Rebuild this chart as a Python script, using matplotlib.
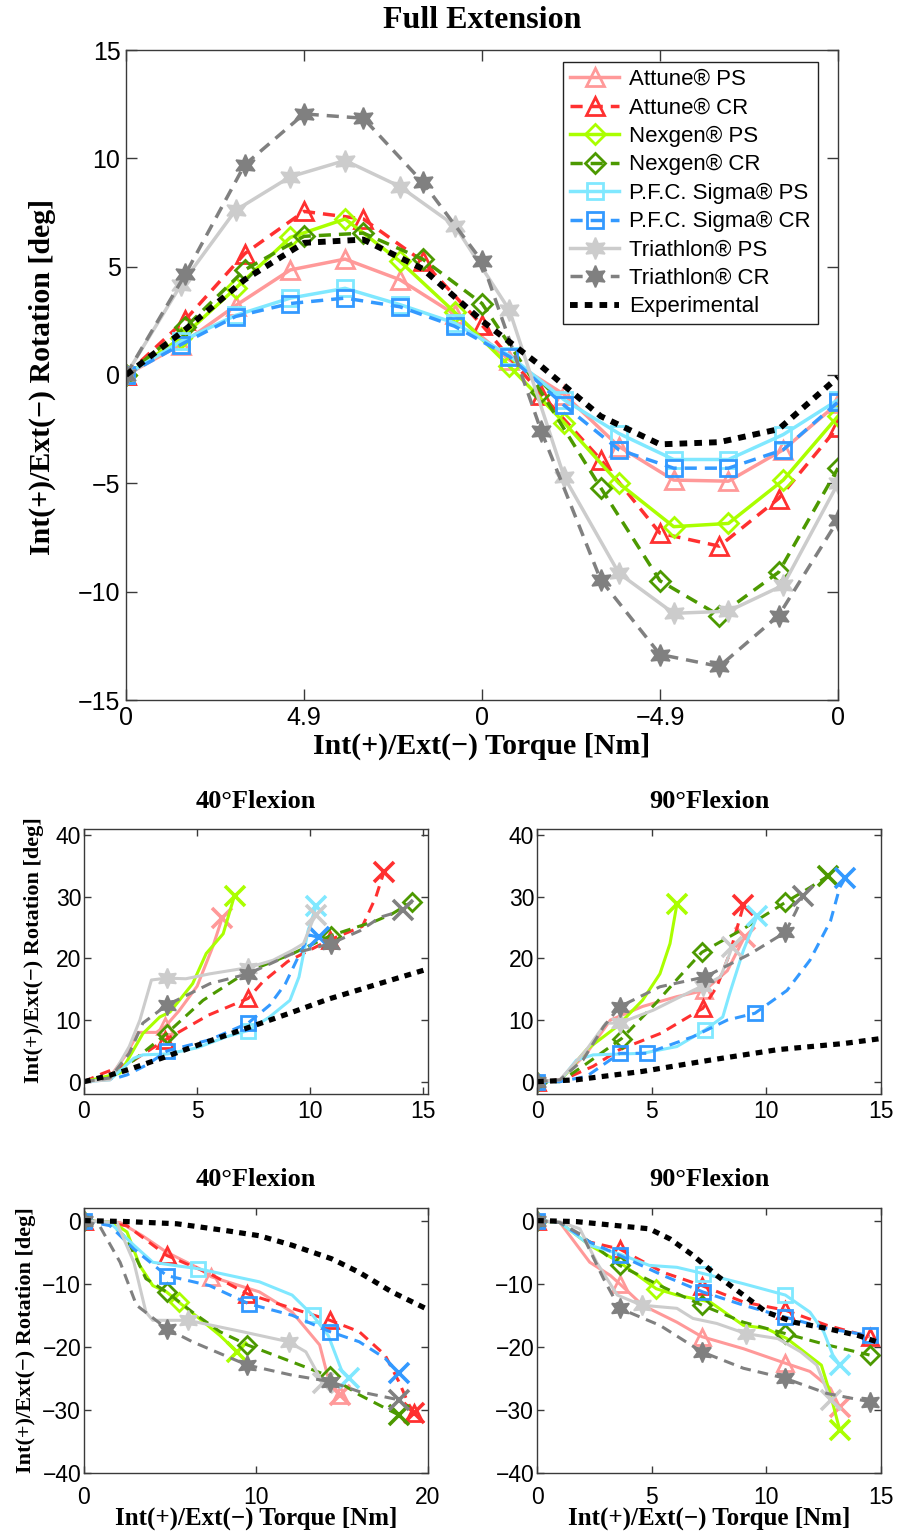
import numpy as np
import matplotlib
matplotlib.use("Agg")
import matplotlib.pyplot as plt

SERIF = ['Liberation Serif', 'DejaVu Serif']
SANS = ['Liberation Sans', 'DejaVu Sans']
plt.rcParams['font.family'] = SANS
plt.rcParams['axes.unicode_minus'] = True

# ---------------- series identity ----------------
NAMES = ["Attune® PS", "Attune® CR", "Nexgen® PS", "Nexgen® CR",
         "P.F.C. Sigma® PS", "P.F.C. Sigma® CR", "Triathlon® PS",
         "Triathlon® CR", "Experimental"]
COLORS = ["#FF9999", "#FF3030", "#AAFF00", "#4C9900",
          "#80E8FF", "#3399FF", "#CCCCCC", "#808080", "#000000"]
MARKERS = ["^", "^", "D", "D", "s", "s", (6, 1, 0), (6, 1, 0), None]
IS_DASHED = [False, True, False, True, False, True, False, True, None]

# ---------------- Full extension (top) ----------------
FE_TICK_LABELS = ["0", "4.9", "0", "\u22124.9", "0"]
FE_STEPS_13 = list(range(13))
FE_STEPS_14 = list(np.linspace(0, 12, 14))

fe_attune_ps = [0, 1.4, 3.2, 4.85, 5.35, 4.4, 2.8, 0.7, -0.9, -3.3, -4.85, -4.9, -3.45, -1.3]
fe_attune_cr = [0, 2.55, 5.6, 7.55, 7.2, 5.25, 2.3, -0.9, -3.9, -7.3, -7.9, -5.7, -2.4]
fe_nexgen_ps = [0, 1.7, 4.0, 6.35, 7.2, 5.25, 2.9, 0.4, -2.2, -5.0, -7.0, -6.85, -4.85, -1.9]
fe_nexgen_cr = [0, 2.2, 4.85, 6.4, 6.55, 5.35, 3.3, -0.8, -5.2, -9.5, -11.1, -9.1, -4.3]
fe_sigma_ps = [0, 1.55, 2.75, 3.55, 4.0, 3.25, 2.4, 0.9, -1.15, -2.7, -3.9, -3.9, -2.75, -1.15]
fe_sigma_cr = [0, 1.4, 2.7, 3.3, 3.55, 3.15, 2.25, 0.85, -1.4, -3.45, -4.3, -4.3, -3.45, -1.25]
fe_triathlon_ps = [0, 4.15, 7.6, 9.15, 9.9, 8.7, 6.9, 3.0, -4.7, -9.15, -11.0, -10.9, -9.7, -5.0]
fe_triathlon_cr = [0, 4.65, 9.7, 12.05, 11.85, 8.9, 5.25, -2.6, -9.45, -12.9, -13.45, -11.1, -6.7]
fe_experimental = [0, 2.1, 4.4, 6.1, 6.25, 4.9, 2.5, 0.4, -1.9, -3.2, -3.1, -2.5, -0.1]

# ---------------- 40 deg flexion, internal torque ----------------
i40_x = [
    [0, 1.1, 1.9, 2.4, 3.2, 3.6, 4.2, 5.0, 5.7, 6.1],
    [0, 0.8, 2.0, 3.6, 5.5, 7.25, 7.9, 9.0, 10.85, 12.3, 12.9, 13.25],
    [0, 1.6, 2.6, 3.35, 3.8, 4.8, 5.4, 6.15, 6.65],
    [0, 1.15, 2.2, 3.65, 5.26, 7.2, 9.2, 10.9, 12.9, 13.6, 14.5],
    [0, 1.15, 2.2, 2.6, 3.7, 5.0, 6.3, 7.25, 8.2, 9.1, 9.5, 9.9, 10.26],
    [0, 1.44, 1.9, 2.76, 3.68, 5.56, 7.25, 8.2, 8.9, 9.5, 9.95, 10.4],
    [0, 1.15, 2.0, 2.47, 2.98, 3.65, 4.5, 5.56, 7.25, 8.35, 9.2, 9.7, 10.1, 10.26],
    [0, 1.15, 2.0, 2.6, 3.65, 5.56, 7.25, 9.2, 10.9, 12.2, 13.1, 14.1],
    [0, 1.0, 2.0, 3.5, 5.0, 7.2, 9.0, 10.8, 12.5, 15.2],
]
i40_y = [
    [0, 0.5, 4.6, 8.0, 8.0, 9.0, 11.5, 15.5, 22.0, 26.5],
    [0, 1.3, 3.0, 6.8, 10.8, 13.5, 16.2, 19.5, 23.0, 25.2, 30.0, 34.0],
    [0, 1.4, 7.8, 10.5, 11.3, 15.9, 20.8, 24.0, 30.2],
    [0, 0.6, 3.5, 7.8, 13.2, 17.8, 20.75, 23.7, 26.1, 27.2, 29.2],
    [0, 0.3, 3.8, 4.35, 4.5, 5.5, 7.3, 8.3, 10.5, 13.2, 17.0, 24.5, 28.5],
    [0, 0.6, 1.1, 2.7, 5.0, 6.8, 9.5, 12.4, 15.9, 20.5, 23.8, 23.4],
    [0, 0.3, 5.7, 10.0, 16.5, 16.8, 16.7, 17.5, 18.5, 19.7, 21.3, 22.4, 26.1, 27.0],
    [0, 0.6, 4.6, 9.5, 12.4, 15.9, 17.5, 20.75, 22.4, 24.5, 26.7, 27.8],
    [0, 0.9, 2.0, 3.9, 5.9, 8.7, 11.0, 13.4, 15.3, 18.3],
]
i40_marks = [[5], [3, 5, 8], [], [3, 7, 10], [7], [4, 6], [5, 8], [4, 6, 8], []]
i40_end_x = [True, True, True, False, True, True, True, True, False]

# ---------------- 90 deg flexion, internal torque ----------------
i90_x = [
    [0, 1.0, 2.16, 3.2, 4.6, 6.1, 7.3, 8.3, 9.05],
    [0, 1.0, 2.45, 3.6, 5.4, 7.23, 7.84, 8.4, 8.86, 9.0],
    [0, 1.0, 2.16, 3.47, 4.6, 5.36, 5.8, 6.1],
    [0, 1.0, 2.0, 3.69, 5.2, 6.2, 7.19, 9.0, 10.83, 11.9, 12.7],
    [0, 1.0, 1.72, 2.45, 4.6, 6.1, 7.33, 8.1, 8.4, 9.0, 9.6],
    [0, 1.0, 2.16, 3.18, 3.6, 4.78, 6.8, 8.3, 9.5, 10.9, 11.9, 12.8, 13.2, 13.45],
    [0, 1.0, 2.16, 3.0, 3.6, 5.07, 6.8, 7.26, 8.0, 8.4, 8.5],
    [0, 1.0, 2.0, 2.9, 3.6, 5.36, 7.33, 9.3, 10.83, 11.3, 11.6],
    [0, 1.7, 4.6, 7.55, 10.5, 13.4, 15.0],
]
i90_y = [
    [0, 0.3, 4.6, 10.0, 12.2, 13.8, 14.8, 18.0, 23.5],
    [0, 0.1, 2.5, 5.2, 7.85, 11.9, 15.4, 20.75, 26.7, 28.6],
    [0, 0.1, 5.2, 8.9, 13.2, 17.5, 22.4, 28.8],
    [0, 0.0, 2.5, 7.0, 12.8, 17.0, 21.0, 24.8, 29.1, 31.5, 33.4],
    [0, 0.1, 3.5, 4.35, 4.6, 5.7, 8.4, 10.5, 14.3, 21.3, 26.9],
    [0, 0.0, 0.86, 3.5, 4.6, 4.6, 7.3, 10.0, 11.1, 14.8, 19.7, 26.1, 31.5, 33.1],
    [0, 0.3, 5.2, 9.5, 9.5, 11.6, 14.8, 15.6, 17.0, 20.75, 21.8],
    [0, 0.3, 3.5, 8.9, 12.15, 15.4, 17.0, 20.75, 24.25, 27.7, 30.2],
    [0, 0.3, 1.67, 3.5, 5.2, 6.2, 7.0],
]
i90_marks = [[6], [0, 5], [], [0, 3, 6, 8], [6], [0, 4, 5, 8], [4, 7], [0, 4, 6, 8], []]
i90_end_x = [True, True, True, True, True, True, True, True, False]

# ---------------- 40 deg flexion, external torque ----------------
e40_x = [
    [0, 2.1, 3.4, 4.8, 6.7, 7.4, 10.2, 12.1, 13.7, 14.25, 14.9],
    [0, 2.5, 4.8, 7.3, 9.5, 12.1, 14.3, 16.0, 17.5, 18.3, 18.9, 19.2],
    [0, 1.7, 2.5, 3.24, 4.0, 4.8, 5.5, 6.7, 7.9, 8.9],
    [0, 1.5, 2.5, 3.6, 4.8, 6.3, 7.9, 9.5, 12.1, 14.3, 16.0, 17.5, 18.3],
    [0, 1.5, 2.9, 4.0, 5.5, 6.6, 10.2, 12.1, 13.3, 14.2, 15.0, 15.4],
    [0, 1.5, 2.9, 4.8, 7.3, 9.6, 12.1, 14.3, 16.0, 17.5, 18.3],
    [0, 1.9, 2.9, 3.6, 4.0, 6.04, 9.2, 11.9, 12.9, 13.9],
    [0, 0.9, 2.1, 3.05, 4.8, 6.3, 9.5, 12.1, 14.3, 16.0, 18.3],
    [0, 2.5, 5.4, 8.3, 10.2, 12.1, 14.4, 16.0, 17.9, 19.85],
]
e40_y = [
    [0, -0.3, -2.4, -5.0, -7.6, -8.9, -11.3, -14.5, -19.7, -25.5, -27.6],
    [0, -0.8, -5.5, -8.4, -11.6, -13.9, -15.8, -17.6, -21.3, -25.5, -29.2, -30.5],
    [0, -0.3, -1.8, -7.1, -10.3, -11.3, -12.9, -15.5, -18.2, -20.8],
    [0, -0.3, -2.9, -9.2, -11.3, -14.5, -17.6, -19.7, -22.4, -24.7, -27.6, -29.7, -30.8],
    [0, -0.3, -3.9, -6.6, -7.2, -7.6, -9.7, -11.8, -15.0, -18.2, -23.9, -25.0],
    [0, -0.8, -4.5, -8.7, -10.3, -13.2, -15.0, -17.6, -19.2, -21.8, -24.2],
    [0, -0.3, -6.6, -14.5, -15.8, -15.8, -17.6, -19.2, -20.8, -25.8],
    [0, -0.8, -6.6, -13.4, -17.1, -19.2, -22.9, -24.5, -25.5, -27.1, -28.4],
    [0, -0.15, -0.5, -1.6, -2.4, -3.9, -6.05, -8.2, -11.3, -13.9],
]
e40_marks = [[0, 5, 10], [0, 2, 4, 6, 11], [6], [0, 4, 7, 9], [5, 8], [0, 3, 5, 7], [5, 7], [0, 4, 6, 8], []]
e40_end_x = [True, True, True, True, True, True, True, True, False]

# ---------------- 90 deg flexion, external torque ----------------
e90_x = [
    [0, 1.0, 2.3, 3.2, 3.6, 4.6, 6.1, 7.19, 9.0, 10.83, 11.9, 12.8, 13.2],
    [0, 1.0, 2.3, 3.6, 5.5, 7.19, 9.0, 10.83, 12.65, 14.5],
    [0, 1.0, 2.3, 3.6, 5.2, 6.1, 7.55, 9.0, 10.0, 10.9, 12.4, 12.8, 13.2],
    [0, 1.0, 2.3, 3.6, 5.36, 7.19, 9.0, 10.83, 12.65, 14.5],
    [0, 1.0, 2.3, 3.6, 4.9, 6.1, 7.26, 9.0, 10.83, 11.9, 12.5, 12.9, 13.2],
    [0, 1.0, 2.3, 3.6, 5.5, 7.23, 9.0, 10.83, 12.65, 14.5],
    [0, 1.0, 1.87, 2.6, 3.5, 4.56, 6.1, 6.8, 7.84, 9.1, 10.5, 11.5, 12.2, 12.8],
    [0, 1.0, 2.0, 2.9, 3.6, 5.36, 7.19, 9.0, 10.83, 12.65, 14.5],
    [0, 1.7, 4.9, 5.8, 6.8, 7.84, 9.0, 10.0, 11.2, 12.65, 14.0, 15.06],
]
e90_y = [
    [0, -0.3, -6.6, -8.7, -10.0, -13.4, -16.1, -18.4, -20.3, -22.6, -23.9, -26.6, -29.6],
    [0, -0.3, -3.4, -4.5, -8.2, -10.3, -12.9, -14.2, -16.6, -18.4],
    [0, -0.3, -3.9, -6.6, -10.8, -11.8, -12.9, -16.6, -17.1, -18.7, -22.9, -27.6, -33.2],
    [0, -0.3, -3.4, -7.1, -10.3, -13.4, -16.1, -17.9, -19.7, -21.3],
    [0, -0.3, -3.9, -5.3, -7.1, -7.4, -8.4, -10.0, -11.8, -14.5, -17.6, -21.3, -22.9],
    [0, -0.3, -3.4, -5.5, -8.7, -11.3, -13.4, -15.3, -17.1, -18.2],
    [0, -0.2, -1.3, -6.6, -11.8, -13.4, -13.9, -15.5, -16.3, -17.9, -18.7, -20.8, -22.9, -28.4],
    [0, -0.3, -2.4, -9.2, -13.9, -16.6, -20.8, -23.4, -25.0, -27.4, -28.7],
    [0, -0.15, -1.3, -2.9, -5.5, -8.7, -11.8, -14.5, -16.1, -17.1, -18.2, -19.5],
]
e90_marks = [[4, 7, 9], [0, 3, 5, 7, 9], [4], [0, 3, 5, 7, 9], [6, 8], [0, 3, 5, 7, 9], [5, 9], [0, 4, 6, 8, 10], []]
e90_end_x = [True, False, True, False, True, False, True, False, False]

# ---------------- figure ----------------
W, H = 900, 1532
fig = plt.figure(figsize=(W / 100, H / 100), dpi=100)


def px_axes(l, t, r, b):
    return fig.add_axes([l / W, 1 - b / H, (r - l) / W, (b - t) / H])


def style_axes(ax, fs, ticklen):
    for s in ax.spines.values():
        s.set_color("#3a3a3a")
        s.set_linewidth(1.0)
    ax.tick_params(direction="in", top=True, right=True, length=ticklen,
                   width=1.0, color="#3a3a3a", labelsize=fs, pad=4)


def line_kwargs(k, lw):
    kw = dict(color=COLORS[k], lw=lw, solid_joinstyle="round", dash_capstyle="butt")
    if k == 8:
        kw.update(ls=(0, (1.3, 1.2)), lw=lw * 1.7, dash_capstyle="butt")
    elif IS_DASHED[k]:
        kw.update(ls=(0, (3.5, 2.3)))
    else:
        kw.update(ls="-")
    return kw


def marker_kwargs(k, base):
    m = MARKERS[k]
    kw = dict(marker=m, mec=COLORS[k], mfc="none", mew=2.0, ms=base)
    if m == "s":
        kw["ms"] = base * 0.85
    elif m == "D":
        kw["ms"] = base * 0.75
    elif isinstance(m, tuple):
        kw["ms"] = base * 1.2
        kw["mfc"] = COLORS[k]
        kw["mew"] = 1.2
    return kw


# ---- top panel ----
ax0 = px_axes(126, 50, 838, 700)
fe_series = [(FE_STEPS_14, fe_attune_ps), (FE_STEPS_13, fe_attune_cr),
             (FE_STEPS_14, fe_nexgen_ps), (FE_STEPS_13, fe_nexgen_cr),
             (FE_STEPS_14, fe_sigma_ps), (FE_STEPS_14, fe_sigma_cr),
             (FE_STEPS_14, fe_triathlon_ps), (FE_STEPS_13, fe_triathlon_cr),
             (FE_STEPS_13, fe_experimental)]
handles = []
for k, (xs, ys) in enumerate(fe_series):
    kw = line_kwargs(k, 2.5)
    if MARKERS[k] is not None:
        kw.update(marker_kwargs(k, 13))
    ln, = ax0.plot(xs, ys, label=NAMES[k], **kw)
    handles.append(ln)
ax0.set_xlim(0, 12)
ax0.set_ylim(-15, 15)
ax0.set_xticks([0, 3, 6, 9, 12])
ax0.set_xticklabels(FE_TICK_LABELS)
ax0.set_yticks([-15, -10, -5, 0, 5, 10, 15])
ax0.set_yticklabels(["\u221215", "\u221210", "\u22125", "0", "5", "10", "15"])
style_axes(ax0, 18, 8)
leg = ax0.legend(handles=handles, loc="upper right", bbox_to_anchor=(0.972, 0.9815),
                 fontsize=16, numpoints=1, handlelength=2.2, handletextpad=0.45,
                 labelspacing=0.33, borderpad=0.32, borderaxespad=0,
                 fancybox=False, framealpha=1, edgecolor="#222222")
leg.get_frame().set_linewidth(1.0)

fig.text(482 / W, 1 - 21 / H, "Full Extension", family=SERIF, weight="bold",
         fontsize=23, ha="center", va="center")
fig.text(482 / W, 1 - 746 / H, "Int(+)/Ext(\u2212) Torque [Nm]", family=SERIF,
         weight="bold", fontsize=21.5, ha="center", va="center")
fig.text(42 / W, 1 - 377 / H, "Int(+)/Ext(\u2212) Rotation [deg]", family=SERIF,
         weight="bold", fontsize=21.5, ha="center", va="center", rotation=90)

# ---- small panels ----
panels = [
    (84, 829, 428, 1094, i40_x, i40_y, i40_marks, i40_end_x, (0, 15.2), (-2, 41),
     [0, 5, 10, 15], [0, 10, 20, 30, 40]),
    (537, 829, 881, 1094, i90_x, i90_y, i90_marks, i90_end_x, (0, 15), (-2, 41),
     [0, 5, 10, 15], [0, 10, 20, 30, 40]),
    (84, 1208, 428, 1473, e40_x, e40_y, e40_marks, e40_end_x, (0, 20), (-40, 2),
     [0, 10, 20], [-40, -30, -20, -10, 0]),
    (537, 1208, 881, 1473, e90_x, e90_y, e90_marks, e90_end_x, (0, 15), (-40, 2),
     [0, 5, 10, 15], [-40, -30, -20, -10, 0]),
]


def tick_text(v):
    return ("\u2212" + str(abs(v))) if v < 0 else str(v)


for (l, t, r, b, XS, YS, MK, EX, xl, yl, xt, yt) in panels:
    ax = px_axes(l, t, r, b)
    for k in range(9):
        kw = line_kwargs(k, 2.2)
        if MARKERS[k] is not None and MK[k]:
            kw.update(marker_kwargs(k, 12))
            kw["markevery"] = MK[k]
        ax.plot(XS[k], YS[k], **kw)
        if EX[k]:
            ax.plot(XS[k][-1:], YS[k][-1:], ls="none", marker="x", ms=14,
                    mew=2.6, color=COLORS[k])
    ax.set_xlim(*xl)
    ax.set_ylim(*yl)
    ax.set_xticks(xt)
    ax.set_yticks(yt)
    ax.set_xticklabels([tick_text(v) for v in xt])
    ax.set_yticklabels([tick_text(v) for v in yt])
    style_axes(ax, 16.5, 5)
    ax.tick_params(axis="y", pad=2)
    if yl[0] < -10:
        ax.tick_params(axis="x", pad=9)

for cx, cy, txt in [(256, 802, "40°Flexion"), (709, 802, "90°Flexion"),
                    (256, 1180, "40°Flexion"), (709, 1180, "90°Flexion")]:
    fig.text(cx / W, 1 - cy / H, txt, family=SERIF, weight="bold", fontsize=19,
             ha="center", va="center")
for cx in (256, 709):
    fig.text(cx / W, 1 - 1518 / H, "Int(+)/Ext(\u2212) Torque [Nm]", family=SERIF,
             weight="bold", fontsize=18, ha="center", va="center")
fig.text(34 / W, 1 - 950 / H, "Int(+)/Ext(\u2212) Rotation [deg]", family=SERIF,
         weight="bold", fontsize=16, ha="center", va="center", rotation=90)
fig.text(26 / W, 1 - 1340 / H, "Int(+)/Ext(\u2212) Rotation [deg]", family=SERIF,
         weight="bold", fontsize=16, ha="center", va="center", rotation=90)

fig.savefig("out.png", dpi=100, facecolor="white")
